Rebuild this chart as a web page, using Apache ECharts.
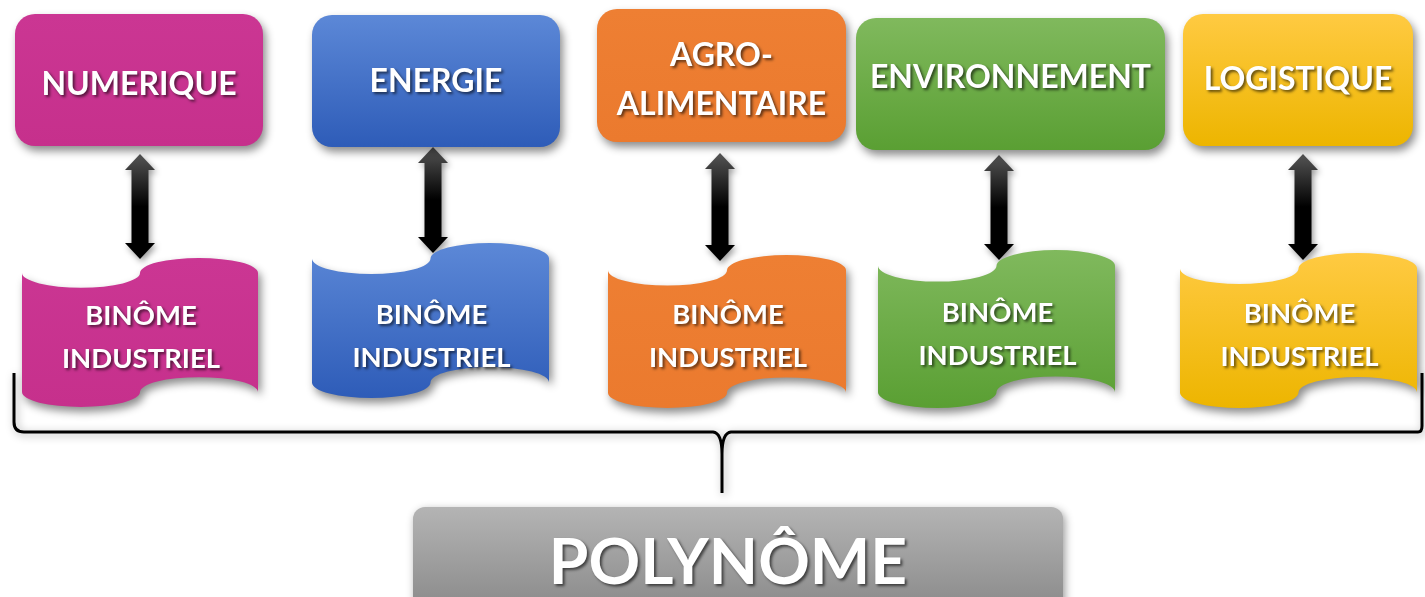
<!DOCTYPE html>
<html><head><meta charset="utf-8">
<script src="https://cdn.jsdelivr.net/npm/echarts@6/dist/echarts.min.js"></script>
<style>html,body{margin:0;padding:0;background:#fff;overflow:hidden}#c{width:1425px;height:597px}</style>
</head><body><div id="c"></div>
<script>
// ---- content ----
const sectors = ['NUMERIQUE', 'ENERGIE', 'AGRO-\nALIMENTAIRE', 'ENVIRONNEMENT', 'LOGISTIQUE'];
const partners = ['BINÔME\nINDUSTRIEL', 'BINÔME\nINDUSTRIEL', 'BINÔME\nINDUSTRIEL', 'BINÔME\nINDUSTRIEL', 'BINÔME\nINDUSTRIEL'];
const rootLabel = 'POLYNÔME';

// ---- layout (pixel space of a hidden 1425 x 597 value grid) ----
const boxL = [15, 312, 597, 856, 1183];
const boxR = [263, 560, 846, 1165, 1413];
const boxT = [14, 15, 9, 18, 14];
const boxB = [146, 147, 142, 150, 146];
const boxTextY = [85, 82, 80, 78, 80];
const tapeL = [22, 312, 608, 878, 1180];
const tapeR = [258, 549, 846, 1115, 1417];
const tapeT = [258, 243, 255, 250, 253];
const tapeB = [407, 398, 408, 408, 408];
const tapeTextY = [338, 337, 337, 335, 336];
const arrowX = [140, 433, 720, 999, 1303];
const arrowT = [154, 147, 153, 155, 154];
const arrowB = [259, 253, 261, 260, 260];
const braceY = 432, braceL = 14, braceR = 1422, braceTopY = 373, braceMidX = 722, braceStemY = 493;
const rootBox = [413, 507, 1063, 640];
const rootTextPos = [728, 563];

// ---- styles ----
const colTop = ['#CB3693', '#5C88D7', '#EE7F33', '#80B95D', '#FFCA42'];
const colBot = ['#C6308C', '#2E5CB8', '#EB7A2E', '#5A9F33', '#EDB500'];
const FONT = 'Lato, "Open Sans", sans-serif';

function grad(i) {
  return new echarts.graphic.LinearGradient(0, 0, 0, 1, [
    { offset: 0, color: colTop[i] }, { offset: 1, color: colBot[i] }
  ]);
}
const txtShadow = { textShadowColor: 'rgba(0,0,0,0.6)', textShadowBlur: 3, textShadowOffsetX: 2, textShadowOffsetY: 2 };

function renderBox(params, api) {
  const i = api.value(0);
  const p0 = api.coord([boxL[i], boxT[i]]), p1 = api.coord([boxR[i], boxB[i]]);
  const x = p0[0], y = p0[1], w = p1[0] - p0[0], h = p1[1] - p0[1];
  const ty = api.coord([0, boxTextY[i]])[1];
  return { type: 'group', children: [
    { type: 'rect', shape: { x: x, y: y, width: w, height: h, r: 20 },
      style: { fill: grad(i), shadowBlur: 9, shadowOffsetX: 3, shadowOffsetY: 5, shadowColor: 'rgba(0,0,0,0.45)' } },
    { type: 'text', style: Object.assign({ x: x + w / 2, y: ty, text: sectors[i], fill: '#fff',
      font: 'bold 32px ' + FONT, align: 'center', verticalAlign: 'middle', lineHeight: 49 }, txtShadow) }
  ]};
}

function renderTape(params, api) {
  const i = api.value(0);
  const p0 = api.coord([tapeL[i], tapeT[i]]), p1 = api.coord([tapeR[i], tapeB[i]]);
  const x0 = p0[0], y0 = p0[1], w = p1[0] - p0[0], h = p1[1] - p0[1];
  const rx = w / 4, ry = h / 10, xm = x0 + w / 2, x1 = x0 + w;
  const d = 'M' + x0 + ' ' + (y0 + ry) +
    ' A' + rx + ' ' + ry + ' 0 0 0 ' + xm + ' ' + (y0 + ry) +
    ' A' + rx + ' ' + ry + ' 0 0 1 ' + x1 + ' ' + (y0 + ry) +
    ' L' + x1 + ' ' + (y0 + h - ry) +
    ' A' + rx + ' ' + ry + ' 0 0 0 ' + xm + ' ' + (y0 + h - ry) +
    ' A' + rx + ' ' + ry + ' 0 0 1 ' + x0 + ' ' + (y0 + h - ry) + ' Z';
  const ty = api.coord([0, tapeTextY[i]])[1];
  return { type: 'group', children: [
    { type: 'path', shape: { pathData: d },
      style: { fill: grad(i), shadowBlur: 9, shadowOffsetX: 3, shadowOffsetY: 5, shadowColor: 'rgba(0,0,0,0.45)' } },
    { type: 'text', style: Object.assign({ x: xm + 1, y: ty, text: partners[i], fill: '#fff',
      font: 'bold 27.5px ' + FONT, align: 'center', verticalAlign: 'middle', lineHeight: 43 }, txtShadow) }
  ]};
}

function renderArrow(params, api) {
  const i = api.value(0);
  const t = api.coord([arrowX[i], arrowT[i]]), b = api.coord([arrowX[i], arrowB[i]]);
  const cx = t[0], ty = t[1], by = b[1];
  const hw = 15, sw = 8.5, hl = 16;
  const pts = [[cx, ty], [cx + hw, ty + hl], [cx + sw, ty + hl], [cx + sw, by - hl], [cx + hw, by - hl], [cx, by],
    [cx - hw, by - hl], [cx - sw, by - hl], [cx - sw, ty + hl], [cx - hw, ty + hl]];
  return { type: 'polygon', shape: { points: pts },
    style: { fill: new echarts.graphic.LinearGradient(0, 0, 0, 1, [
      { offset: 0, color: '#555' }, { offset: 0.5, color: '#000' }, { offset: 1, color: '#000' }]),
      shadowBlur: 6, shadowOffsetX: 2, shadowOffsetY: 3, shadowColor: 'rgba(0,0,0,0.4)' } };
}

function renderRoot(params, api) {
  const a = api.coord([braceL, braceTopY]), b = api.coord([braceR, braceY]);
  const m = api.coord([braceMidX, braceStemY]);
  const yL = b[1], xl = a[0], xr = b[0], yt = a[1], mx = m[0], sy = m[1];
  const d = 'M' + xl + ' ' + yt + ' L' + xl + ' ' + (yL - 10) + ' Q' + xl + ' ' + yL + ' ' + (xl + 10) + ' ' + yL +
    ' L' + (mx - 9) + ' ' + yL + ' Q' + mx + ' ' + (yL + 1) + ' ' + mx + ' ' + (yL + 22) + ' L' + mx + ' ' + sy +
    ' M' + mx + ' ' + (yL + 22) + ' Q' + mx + ' ' + (yL + 1) + ' ' + (mx + 9) + ' ' + yL +
    ' L' + (xr - 4) + ' ' + yL + ' Q' + xr + ' ' + yL + ' ' + xr + ' ' + (yL - 6) + ' L' + xr + ' ' + yt;
  const r0 = api.coord([rootBox[0], rootBox[1]]), r1 = api.coord([rootBox[2], rootBox[3]]);
  const tp = api.coord(rootTextPos);
  return { type: 'group', children: [
    { type: 'path', shape: { pathData: d },
      style: { fill: null, stroke: '#000', lineWidth: 3, shadowBlur: 8, shadowOffsetX: 2, shadowOffsetY: 2, shadowColor: 'rgba(0,0,0,0.35)' } },
    { type: 'rect', shape: { x: r0[0], y: r0[1], width: r1[0] - r0[0], height: r1[1] - r0[1], r: 12 },
      style: { fill: new echarts.graphic.LinearGradient(0, 0, 0, 1, [
        { offset: 0, color: '#B4B4B4' }, { offset: 1, color: '#7E7E7E' }]),
        shadowBlur: 8, shadowOffsetX: 2, shadowOffsetY: 3, shadowColor: 'rgba(0,0,0,0.4)' } },
    { type: 'text', style: Object.assign({ x: tp[0], y: tp[1], text: rootLabel, fill: '#fff',
      font: 'bold 64px ' + FONT, align: 'center', verticalAlign: 'middle' }, txtShadow) }
  ]};
}

const idx = sectors.map(function (s, i) { return [i, 0]; });
const chart = echarts.init(document.getElementById('c'), null, { renderer: 'canvas' });
chart.setOption({
  animation: false,
  backgroundColor: '#fff',
  grid: { left: 0, right: 0, top: 0, bottom: 0 },
  xAxis: { type: 'value', min: 0, max: 1425, show: false },
  yAxis: { type: 'value', min: 0, max: 597, inverse: true, show: false },
  series: [
    { type: 'custom', renderItem: renderRoot, data: [[0, 0]], z: 1, silent: true },
    { type: 'custom', renderItem: renderArrow, data: idx, z: 2, silent: true },
    { type: 'custom', renderItem: renderTape, data: idx, z: 3, silent: true },
    { type: 'custom', renderItem: renderBox, data: idx, z: 4, silent: true }
  ]
});
</script></body></html>
